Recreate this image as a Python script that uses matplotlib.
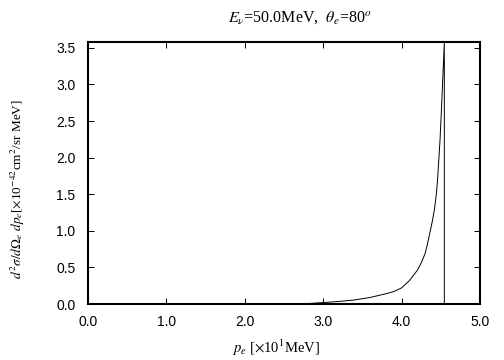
import matplotlib
matplotlib.use('Agg')
import matplotlib.pyplot as plt
from matplotlib.ticker import FormatStrFormatter

# spectrum (p_e in 10 MeV, cross section in 1e-42 cm^2/sr MeV)
pe = [2.6, 2.8, 3.0, 3.2, 3.4, 3.6, 3.8, 3.9, 4.0, 4.1, 4.2, 4.25, 4.3, 4.33,
      4.36, 4.39, 4.42, 4.445, 4.46, 4.475, 4.49, 4.50, 4.51, 4.52, 4.53, 4.545, 4.545]
xsec = [0.0, 0.005, 0.02, 0.035, 0.055, 0.09, 0.14, 0.17, 0.22, 0.32, 0.46, 0.56,
        0.69, 0.82, 0.97, 1.12, 1.30, 1.52, 1.72, 1.98, 2.24, 2.47, 2.70, 2.95,
        3.20, 3.58, 0.0]
xticks = [0.0, 1.0, 2.0, 3.0, 4.0, 5.0]
yticks = [0.0, 0.5, 1.0, 1.5, 2.0, 2.5, 3.0, 3.5]

plt.rcParams['mathtext.fontset'] = 'stix'
plt.rcParams['font.family'] = ['Liberation Sans', 'DejaVu Sans']

fig = plt.figure(figsize=(5.04, 3.6), dpi=100)
ax = fig.add_axes([88 / 504, 1 - 304 / 360, 392 / 504, 262 / 360])

ax.plot(pe, xsec, color='black', lw=0.7)

ax.set_xlim(0, 5.0)
ax.set_ylim(0, 3.58)
ax.set_xticks(xticks)
ax.set_yticks(yticks)
ax.xaxis.set_major_formatter(FormatStrFormatter('%.1f'))
ax.yaxis.set_major_formatter(FormatStrFormatter('%.1f'))
ax.tick_params(direction='in', length=4, width=0.7, top=True, right=True,
               labelsize=10)
ax.tick_params(axis='x', pad=8)
ax.tick_params(axis='y', pad=9)
for s in ax.spines.values():
    s.set_linewidth(1.5)

serif = ['Liberation Serif', 'DejaVu Serif']
fig.text(300 / 504, 1 - 18 / 360,
         r'$E_\nu$=50.0MeV,  $\theta_e$=80$^o$',
         ha='center', va='center', fontsize=11.5, family=serif)
fig.text(276 / 504, 1 - 348 / 360, r'$p_e$ [$\times$10$^1$MeV]',
         ha='center', va='center', fontsize=10.5, family=serif)
fig.text(18 / 504, 1 - 189 / 360,
         r'$d^2\sigma/d\Omega_e\ dp_e$[$\times$10$^{-42}$cm$^2$/sr MeV]',
         ha='center', va='center', rotation=90, fontsize=9.5, family=serif)

fig.savefig('out.png', dpi=100)
